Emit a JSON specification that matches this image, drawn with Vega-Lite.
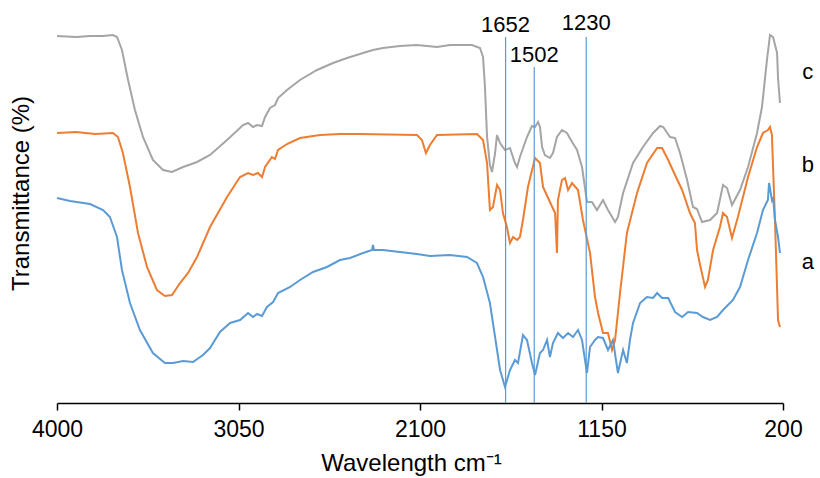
{
  "$schema": "https://vega.github.io/schema/vega-lite/v6.json",
  "width": 726,
  "height": 383,
  "autosize": "none",
  "padding": {"left": 57, "top": 20, "right": 37, "bottom": 75},
  "background": "white",
  "config": {
    "view": {"stroke": null},
    "font": "Liberation Sans",
    "text": {"font": "Liberation Sans"}
  },
  "datasets": {
    "spectra": [
      {"series":"c","wn":4000,"t":367},{"series":"c","wn":3900,"t":366},{"series":"c","wn":3827,"t":367},{"series":"c","wn":3760,"t":367},{"series":"c","wn":3707,"t":368},{"series":"c","wn":3686,"t":366},{"series":"c","wn":3660,"t":353},{"series":"c","wn":3628,"t":323},{"series":"c","wn":3592,"t":293},{"series":"c","wn":3550,"t":266},{"series":"c","wn":3498,"t":243},{"series":"c","wn":3445,"t":233},{"series":"c","wn":3398,"t":231},{"series":"c","wn":3340,"t":236},{"series":"c","wn":3267,"t":241},{"series":"c","wn":3199,"t":248},{"series":"c","wn":3110,"t":263},{"series":"c","wn":3026,"t":278},{"series":"c","wn":3000,"t":280},{"series":"c","wn":2974,"t":276},{"series":"c","wn":2953,"t":278},{"series":"c","wn":2927,"t":277},{"series":"c","wn":2911,"t":286},{"series":"c","wn":2885,"t":295},{"series":"c","wn":2859,"t":298},{"series":"c","wn":2843,"t":305},{"series":"c","wn":2796,"t":313},{"series":"c","wn":2728,"t":323},{"series":"c","wn":2639,"t":333},{"series":"c","wn":2555,"t":340},{"series":"c","wn":2482,"t":345},{"series":"c","wn":2398,"t":350},{"series":"c","wn":2346,"t":353},{"series":"c","wn":2294,"t":355},{"series":"c","wn":2205,"t":357},{"series":"c","wn":2116,"t":358},{"series":"c","wn":2011,"t":356},{"series":"c","wn":1943,"t":358},{"series":"c","wn":1828,"t":358},{"series":"c","wn":1786,"t":355},{"series":"c","wn":1770,"t":346},{"series":"c","wn":1760,"t":316},{"series":"c","wn":1749,"t":266},{"series":"c","wn":1734,"t":238},{"series":"c","wn":1723,"t":231},{"series":"c","wn":1707,"t":250},{"series":"c","wn":1697,"t":268},{"series":"c","wn":1681,"t":260},{"series":"c","wn":1655,"t":253},{"series":"c","wn":1629,"t":255},{"series":"c","wn":1603,"t":240},{"series":"c","wn":1592,"t":236},{"series":"c","wn":1577,"t":246},{"series":"c","wn":1540,"t":266},{"series":"c","wn":1514,"t":277},{"series":"c","wn":1498,"t":276},{"series":"c","wn":1482,"t":281},{"series":"c","wn":1472,"t":276},{"series":"c","wn":1461,"t":256},{"series":"c","wn":1446,"t":248},{"series":"c","wn":1420,"t":245},{"series":"c","wn":1404,"t":250},{"series":"c","wn":1383,"t":266},{"series":"c","wn":1357,"t":273},{"series":"c","wn":1331,"t":270},{"series":"c","wn":1304,"t":261},{"series":"c","wn":1278,"t":253},{"series":"c","wn":1252,"t":236},{"series":"c","wn":1226,"t":201},{"series":"c","wn":1200,"t":201},{"series":"c","wn":1174,"t":193},{"series":"c","wn":1142,"t":203},{"series":"c","wn":1116,"t":193},{"series":"c","wn":1079,"t":181},{"series":"c","wn":1064,"t":186},{"series":"c","wn":1037,"t":210},{"series":"c","wn":985,"t":240},{"series":"c","wn":933,"t":256},{"series":"c","wn":880,"t":270},{"series":"c","wn":843,"t":277},{"series":"c","wn":827,"t":276},{"series":"c","wn":791,"t":266},{"series":"c","wn":765,"t":265},{"series":"c","wn":739,"t":250},{"series":"c","wn":702,"t":223},{"series":"c","wn":671,"t":196},{"series":"c","wn":650,"t":194},{"series":"c","wn":624,"t":181},{"series":"c","wn":582,"t":183},{"series":"c","wn":545,"t":190},{"series":"c","wn":514,"t":218},{"series":"c","wn":493,"t":215},{"series":"c","wn":467,"t":198},{"series":"c","wn":425,"t":213},{"series":"c","wn":383,"t":236},{"series":"c","wn":336,"t":270},{"series":"c","wn":310,"t":296},{"series":"c","wn":284,"t":343},{"series":"c","wn":268,"t":368},{"series":"c","wn":252,"t":366},{"series":"c","wn":231,"t":350},{"series":"c","wn":226,"t":325},{"series":"c","wn":216,"t":300},

      {"series":"b","wn":4000,"t":270},{"series":"b","wn":3900,"t":271},{"series":"b","wn":3800,"t":269},{"series":"b","wn":3707,"t":270},{"series":"b","wn":3681,"t":266},{"series":"b","wn":3655,"t":250},{"series":"b","wn":3618,"t":216},{"series":"b","wn":3576,"t":170},{"series":"b","wn":3529,"t":136},{"series":"b","wn":3477,"t":113},{"series":"b","wn":3435,"t":107},{"series":"b","wn":3398,"t":108},{"series":"b","wn":3356,"t":120},{"series":"b","wn":3314,"t":130},{"series":"b","wn":3267,"t":146},{"series":"b","wn":3199,"t":176},{"series":"b","wn":3110,"t":206},{"series":"b","wn":3042,"t":226},{"series":"b","wn":3000,"t":230},{"series":"b","wn":2974,"t":228},{"series":"b","wn":2948,"t":230},{"series":"b","wn":2927,"t":226},{"series":"b","wn":2911,"t":236},{"series":"b","wn":2875,"t":246},{"series":"b","wn":2859,"t":244},{"series":"b","wn":2843,"t":253},{"series":"b","wn":2796,"t":259},{"series":"b","wn":2728,"t":265},{"series":"b","wn":2623,"t":268},{"series":"b","wn":2519,"t":269},{"series":"b","wn":2414,"t":269},{"series":"b","wn":2116,"t":268},{"series":"b","wn":2090,"t":263},{"series":"b","wn":2069,"t":250},{"series":"b","wn":2048,"t":258},{"series":"b","wn":2011,"t":268},{"series":"b","wn":1802,"t":269},{"series":"b","wn":1770,"t":263},{"series":"b","wn":1749,"t":240},{"series":"b","wn":1734,"t":193},{"series":"b","wn":1718,"t":196},{"series":"b","wn":1697,"t":218},{"series":"b","wn":1681,"t":213},{"series":"b","wn":1666,"t":190},{"series":"b","wn":1645,"t":176},{"series":"b","wn":1629,"t":160},{"series":"b","wn":1613,"t":166},{"series":"b","wn":1592,"t":163},{"series":"b","wn":1577,"t":166},{"series":"b","wn":1561,"t":183},{"series":"b","wn":1535,"t":216},{"series":"b","wn":1498,"t":245},{"series":"b","wn":1472,"t":240},{"series":"b","wn":1456,"t":216},{"series":"b","wn":1420,"t":201},{"series":"b","wn":1393,"t":190},{"series":"b","wn":1383,"t":150},{"series":"b","wn":1378,"t":203},{"series":"b","wn":1357,"t":223},{"series":"b","wn":1341,"t":225},{"series":"b","wn":1325,"t":213},{"series":"b","wn":1304,"t":220},{"series":"b","wn":1273,"t":213},{"series":"b","wn":1247,"t":183},{"series":"b","wn":1210,"t":150},{"series":"b","wn":1184,"t":106},{"series":"b","wn":1168,"t":90},{"series":"b","wn":1142,"t":70},{"series":"b","wn":1116,"t":70},{"series":"b","wn":1095,"t":53},{"series":"b","wn":1079,"t":63},{"series":"b","wn":1053,"t":110},{"series":"b","wn":1017,"t":170},{"series":"b","wn":964,"t":210},{"series":"b","wn":912,"t":240},{"series":"b","wn":859,"t":255},{"series":"b","wn":833,"t":255},{"series":"b","wn":801,"t":243},{"series":"b","wn":765,"t":228},{"series":"b","wn":728,"t":213},{"series":"b","wn":687,"t":190},{"series":"b","wn":661,"t":180},{"series":"b","wn":650,"t":153},{"series":"b","wn":634,"t":138},{"series":"b","wn":608,"t":116},{"series":"b","wn":593,"t":123},{"series":"b","wn":566,"t":153},{"series":"b","wn":530,"t":176},{"series":"b","wn":514,"t":190},{"series":"b","wn":493,"t":186},{"series":"b","wn":467,"t":165},{"series":"b","wn":436,"t":186},{"series":"b","wn":383,"t":226},{"series":"b","wn":336,"t":256},{"series":"b","wn":305,"t":270},{"series":"b","wn":279,"t":273},{"series":"b","wn":268,"t":276},{"series":"b","wn":258,"t":268},{"series":"b","wn":242,"t":183},{"series":"b","wn":226,"t":83},{"series":"b","wn":216,"t":76},

      {"series":"a","wn":4000,"t":205},{"series":"a","wn":3932,"t":202},{"series":"a","wn":3827,"t":199},{"series":"a","wn":3759,"t":193},{"series":"a","wn":3723,"t":186},{"series":"a","wn":3686,"t":166},{"series":"a","wn":3660,"t":133},{"series":"a","wn":3618,"t":100},{"series":"a","wn":3566,"t":73},{"series":"a","wn":3498,"t":50},{"series":"a","wn":3435,"t":40},{"series":"a","wn":3393,"t":40},{"series":"a","wn":3340,"t":42},{"series":"a","wn":3288,"t":41},{"series":"a","wn":3236,"t":48},{"series":"a","wn":3199,"t":55},{"series":"a","wn":3147,"t":71},{"series":"a","wn":3094,"t":80},{"series":"a","wn":3042,"t":83},{"series":"a","wn":3000,"t":90},{"series":"a","wn":2974,"t":86},{"series":"a","wn":2953,"t":89},{"series":"a","wn":2927,"t":87},{"series":"a","wn":2901,"t":96},{"series":"a","wn":2869,"t":101},{"series":"a","wn":2843,"t":110},{"series":"a","wn":2780,"t":116},{"series":"a","wn":2728,"t":123},{"series":"a","wn":2660,"t":131},{"series":"a","wn":2587,"t":136},{"series":"a","wn":2519,"t":143},{"series":"a","wn":2466,"t":145},{"series":"a","wn":2398,"t":150},{"series":"a","wn":2351,"t":153},{"series":"a","wn":2346,"t":158},{"series":"a","wn":2341,"t":153},{"series":"a","wn":2294,"t":153},{"series":"a","wn":2205,"t":151},{"series":"a","wn":2116,"t":149},{"series":"a","wn":2048,"t":147},{"series":"a","wn":1943,"t":148},{"series":"a","wn":1854,"t":146},{"series":"a","wn":1802,"t":140},{"series":"a","wn":1770,"t":126},{"series":"a","wn":1734,"t":100},{"series":"a","wn":1707,"t":66},{"series":"a","wn":1681,"t":33},{"series":"a","wn":1655,"t":16},{"series":"a","wn":1629,"t":33},{"series":"a","wn":1603,"t":43},{"series":"a","wn":1587,"t":40},{"series":"a","wn":1561,"t":68},{"series":"a","wn":1540,"t":63},{"series":"a","wn":1514,"t":40},{"series":"a","wn":1498,"t":28},{"series":"a","wn":1472,"t":50},{"series":"a","wn":1456,"t":53},{"series":"a","wn":1435,"t":63},{"series":"a","wn":1420,"t":46},{"series":"a","wn":1404,"t":60},{"series":"a","wn":1378,"t":70},{"series":"a","wn":1352,"t":65},{"series":"a","wn":1325,"t":70},{"series":"a","wn":1299,"t":66},{"series":"a","wn":1273,"t":73},{"series":"a","wn":1252,"t":63},{"series":"a","wn":1226,"t":30},{"series":"a","wn":1210,"t":56},{"series":"a","wn":1184,"t":63},{"series":"a","wn":1168,"t":66},{"series":"a","wn":1142,"t":65},{"series":"a","wn":1116,"t":53},{"series":"a","wn":1090,"t":63},{"series":"a","wn":1064,"t":30},{"series":"a","wn":1037,"t":53},{"series":"a","wn":1017,"t":40},{"series":"a","wn":1001,"t":63},{"series":"a","wn":985,"t":80},{"series":"a","wn":948,"t":100},{"series":"a","wn":912,"t":106},{"series":"a","wn":880,"t":105},{"series":"a","wn":859,"t":110},{"series":"a","wn":833,"t":105},{"series":"a","wn":801,"t":105},{"series":"a","wn":765,"t":91},{"series":"a","wn":728,"t":86},{"series":"a","wn":697,"t":91},{"series":"a","wn":650,"t":90},{"series":"a","wn":619,"t":86},{"series":"a","wn":582,"t":83},{"series":"a","wn":545,"t":86},{"series":"a","wn":514,"t":93},{"series":"a","wn":462,"t":103},{"series":"a","wn":425,"t":116},{"series":"a","wn":383,"t":143},{"series":"a","wn":336,"t":170},{"series":"a","wn":305,"t":193},{"series":"a","wn":279,"t":203},{"series":"a","wn":273,"t":220},{"series":"a","wn":258,"t":203},{"series":"a","wn":252,"t":206},{"series":"a","wn":242,"t":183},{"series":"a","wn":226,"t":166},{"series":"a","wn":216,"t":150}
    ],
    "peaks": [
      {"wn":1652,"top":366,"base":0,"labelT":378},
      {"wn":1502,"top":336,"base":0,"labelT":348},
      {"wn":1230,"top":366,"base":0,"labelT":380}
    ],
    "labels": [
      {"series":"c","wn":70,"t":331},
      {"series":"b","wn":70,"t":238},
      {"series":"a","wn":70,"t":141}
    ]
  },
  "layer": [
    {
      "data": {"name": "spectra"},
      "mark": {"type": "line", "strokeWidth": 2},
      "encoding": {
        "x": {
          "field": "wn", "type": "quantitative",
          "scale": {"domain": [4000, 200], "nice": false, "zero": false},
          "axis": {
            "values": [4000, 3050, 2100, 1150, 200],
            "format": "d",
            "title": "Wavelength cm⁻¹",
            "titleFont": "Liberation Sans", "titleFontSize": 24, "titleFontWeight": "normal", "titleColor": "#000000",
            "titleX": 354,
            "labelFont": "Liberation Sans", "labelFontSize": 23, "labelColor": "#000000",
            "labelPadding": 8, "titlePadding": 10,
            "domainColor": "#000000", "domainWidth": 1.5,
            "tickColor": "#000000", "tickWidth": 1.5, "tickSize": 7,
            "grid": false, "labelFlush": false
          }
        },
        "y": {
          "field": "t", "type": "quantitative",
          "scale": {"domain": [0, 383], "nice": false},
          "axis": {
            "title": "Transmittance (%)",
            "labels": false, "ticks": false, "domain": false, "grid": false,
            "titleFont": "Liberation Sans", "titleFontSize": 24, "titleFontWeight": "normal", "titleColor": "#000000",
            "titlePadding": 24,
            "titleY": 173
          }
        },
        "color": {
          "field": "series", "type": "nominal",
          "scale": {"domain": ["a", "b", "c"], "range": ["#5B9BD5", "#ED7D31", "#A5A5A5"]},
          "legend": null
        }
      }
    },
    {
      "data": {"name": "peaks"},
      "mark": {"type": "rule", "color": "#5B9BD5", "strokeWidth": 1.2},
      "encoding": {
        "x": {"field": "wn", "type": "quantitative"},
        "y": {"field": "top", "type": "quantitative"},
        "y2": {"field": "base"}
      }
    },
    {
      "data": {"name": "peaks"},
      "mark": {"type": "text", "fontSize": 22, "color": "#000000", "baseline": "middle", "align": "center"},
      "encoding": {
        "x": {"field": "wn", "type": "quantitative"},
        "y": {"field": "labelT", "type": "quantitative"},
        "text": {"field": "wn", "type": "nominal"}
      }
    },
    {
      "data": {"name": "labels"},
      "mark": {"type": "text", "fontSize": 22, "color": "#000000", "baseline": "middle", "align": "center"},
      "encoding": {
        "x": {"field": "wn", "type": "quantitative"},
        "y": {"field": "t", "type": "quantitative"},
        "text": {"field": "series", "type": "nominal"}
      }
    }
  ]
}
